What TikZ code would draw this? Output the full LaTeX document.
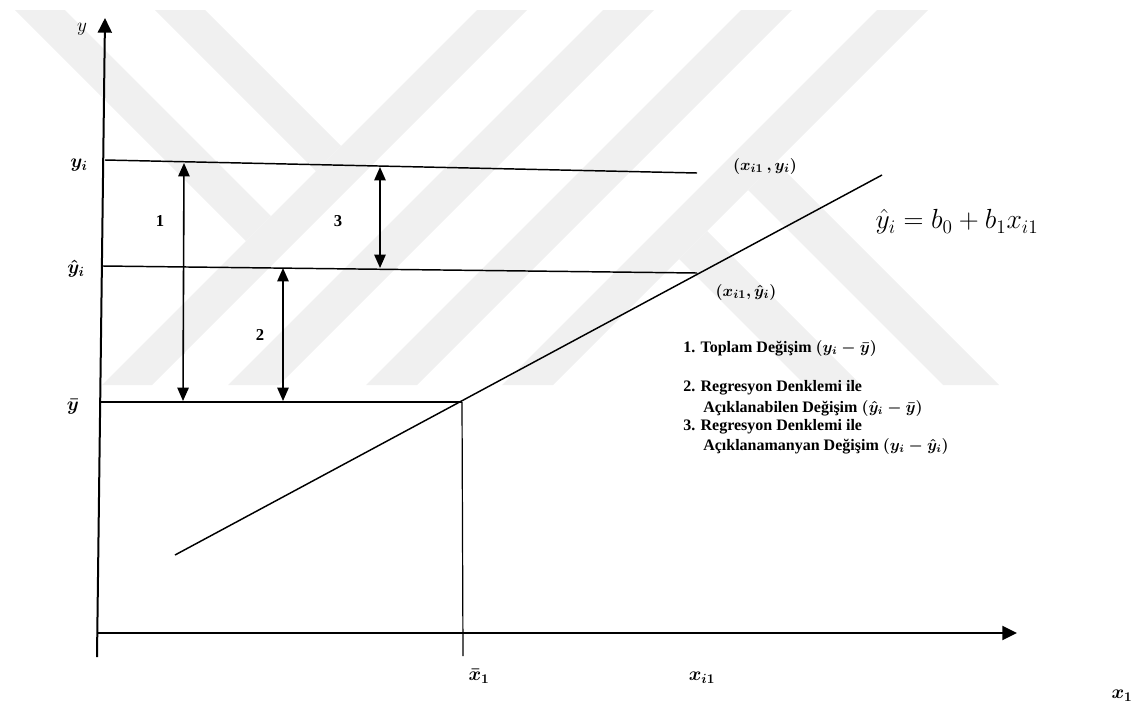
\documentclass[tikz,border=0pt]{standalone}
\usepackage{fontspec}
\setmainfont{Liberation Serif}
\usepackage{amsmath}
\usetikzlibrary{arrows.meta}
\definecolor{wm}{RGB}{240,240,240}
\tikzset{
  axis/.style={line width=1.5pt,-{Triangle[width=10.5pt,length=11pt]}},
  hline/.style={line width=1.1pt},
  dbl/.style={line width=1.2pt,{Triangle[width=8.5pt,length=10pt]}-{Triangle[width=8.5pt,length=10pt]}},
  lbl/.style={font=\bfseries\boldmath\fontsize{14}{16}\selectfont, inner sep=0pt},
  num/.style={font=\bfseries\fontsize{12.5}{14}\selectfont, inner sep=0pt},
  leg/.style={font=\bfseries\boldmath\fontsize{12}{13}\selectfont, inner sep=0pt, anchor=west},
  wmband/.style={fill=wm, draw=none}
}
\begin{document}
\begin{tikzpicture}[x=0.75pt,y=-0.75pt]
\useasboundingbox (0,0) rectangle (1138,711);
% watermark
\fill[wmband] (477,10) -- (527,10) -- (152,385) -- (102,385) -- cycle;
\fill[wmband] (15,10) -- (65,10) -- (271,216) -- (246,241) -- cycle;
\fill[wmband] (155,10) -- (205,10) -- (341,146) -- (316,171) -- cycle;
\fill[wmband] (603,10) -- (654,10) -- (279,385) -- (228,385) -- cycle;
\fill[wmband] (741,10) -- (792,10) -- (417,385) -- (366,385) -- cycle;
\fill[wmband] (877,10) -- (928,10) -- (553,385) -- (502,385) -- cycle;
\fill[wmband] (776,162) -- (999,385) -- (943,385) -- (748,190) -- cycle;
\fill[wmband] (707,231) -- (861,385) -- (805,385) -- (679,259) -- cycle;
% coordinates
\coordinate (o) at (97,633);
\coordinate (ybot) at (97,657);
\coordinate (ytop) at (105,18);
\coordinate (xend) at (1017,633);
\coordinate (yia) at (105,160);
\coordinate (yib) at (697,173);
\coordinate (yha) at (103,266);
\coordinate (yhb) at (697,273);
\coordinate (yba) at (101,402);
\coordinate (ybb) at (462,402);
\coordinate (xbb) at (463,656);
\coordinate (ra) at (175,555);
\coordinate (rb) at (882,175);
\coordinate (a1t) at (184,163);
\coordinate (a1b) at (183,401);
\coordinate (a3t) at (380,167);
\coordinate (a3b) at (380,268);
\coordinate (a2t) at (283,268);
\coordinate (a2b) at (283,401);
% axes
\draw[axis] (ybot) -- (ytop);
\draw[axis] (o) -- (xend);
% lines
\draw[hline] (yia) -- (yib);
\draw[hline] (yha) -- (yhb);
\draw[hline] (yba) -- (ybb);
\draw[line width=0.9pt] (ybb) -- (xbb);
\draw[line width=1.1pt] (ra) -- (rb);
% arrows
\draw[dbl] (a1t) -- (a1b);
\draw[dbl] (a3t) -- (a3b);
\draw[dbl] (a2t) -- (a2b);
% labels
\node[lbl,font=\fontsize{14}{16}\selectfont] (ly) at (82,29) {$y$};
\node[lbl] (lyi) at (79,165) {$y_i$};
\node[lbl] (lyh) at (76,269) {$\hat{y}_i$};
\node[lbl] (lyb) at (73,407) {$\bar{y}$};
\node[num] (n1) at (160,221) {1};
\node[num] (n3) at (338,221) {3};
\node[num] (n2) at (260,335) {2};
\node[lbl,font=\bfseries\boldmath\fontsize{13}{15}\selectfont] (p1) at (765,166) {$(x_{i1}\,,y_i)$};
\node[lbl,font=\bfseries\boldmath\fontsize{13}{15}\selectfont] (p2) at (746,292) {$(x_{i1},\hat{y}_i)$};
\node[inner sep=0pt,font=\fontsize{22}{26}\selectfont] (eq) at (957,222) {$\hat{y}_i = b_0 + b_1 x_{i1}$};
\node[leg] (g1) at (683,348) {1. Toplam Değişim $(y_i - \bar{y})$};
\node[leg] (g2) at (683,388) {2. Regresyon Denklemi ile};
\node[leg] (g2b) at (703,408) {Açıklanabilen Değişim $(\hat{y}_i - \bar{y})$};
\node[leg] (g3) at (683,427) {3. Regresyon Denklemi ile};
\node[leg] (g3b) at (703,446) {Açıklanamanyan Değişim $(y_i - \hat{y}_i)$};
\node[lbl] (lxb) at (479,676) {$\bar{x}_1$};
\node[lbl] (lxi) at (702,678) {$x_{i1}$};
\node[lbl] (lx1) at (1122,696) {$x_1$};
\end{tikzpicture}
\end{document}
